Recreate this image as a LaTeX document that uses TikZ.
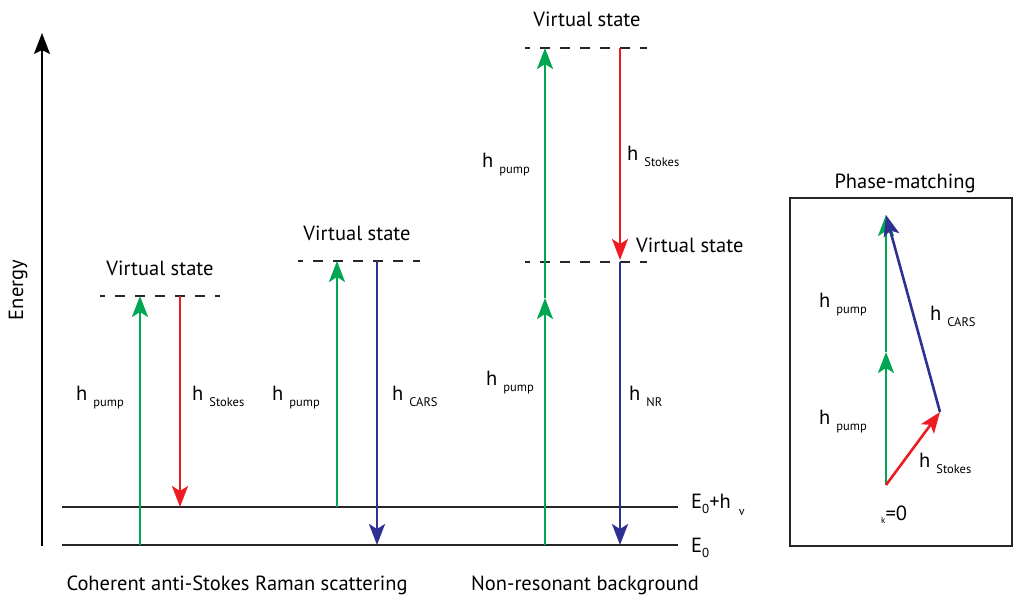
\documentclass[tikz,border=0pt]{standalone}
\usepackage{fontspec}
\setmainfont{PT Sans}
\usetikzlibrary{arrows.meta}
\definecolor{pgreen}{HTML}{00A651}
\definecolor{pred}{HTML}{ED1C24}
\definecolor{pblue}{HTML}{2E3192}
\newcommand{\hsb}[1]{h\hspace{6pt}\raisebox{-6pt}{\fontsize{12.5}{12.5}\selectfont #1}}
\tikzset{
  photon/.style={line width=2.6pt,-{Stealth[length=21pt,width=16pt,inset=5pt]}},
  gph/.style={photon,pgreen},
  rph/.style={photon,pred},
  bph/.style={photon,pblue},
  level/.style={line width=1.6pt,black!85},
  vstate/.style={line width=1.6pt,black!85,dash pattern=on 10pt off 10pt,dash phase=5pt},
  lbl/.style={inner sep=0pt,anchor=base west,font=\fontsize{20.5}{20.5}\selectfont},
  ttl/.style={inner sep=0pt,anchor=base,font=\fontsize{20.5}{20.5}\selectfont},
}
\begin{document}
\begin{tikzpicture}[x=1pt,y=-1pt]
\useasboundingbox (0,0) rectangle (1014,599);
% energy axis
\coordinate (axB) at (42,546);
\coordinate (axT) at (42,33);
\draw[line width=1.8pt,-{Stealth[length=21pt,width=16pt,inset=4pt]}] (axB) -- (axT);
\node[rotate=90,font=\fontsize{20.5}{20.5}\selectfont,inner sep=0pt] (energy) at (18,290) {Energy};
% levels
\coordinate (g0L) at (62,545); \coordinate (g0R) at (678,545);
\coordinate (g1L) at (62,507); \coordinate (g1R) at (678,507);
\draw[level] (g0L) -- (g0R);
\draw[level] (g1L) -- (g1R);
\node[lbl] (e1) at (691,508) {E\raisebox{-5pt}{\fontsize{13}{13}\selectfont 0}+h\hspace{8pt}\raisebox{-7pt}{\fontsize{12}{12}\selectfont v}};
\node[lbl] (e0) at (691,552) {E\raisebox{-5pt}{\fontsize{13}{13}\selectfont 0}};
% diagram 1
\coordinate (v1L) at (100,296); \coordinate (v1R) at (220,296);
\draw[vstate] (v1L) -- (v1R);
\node[ttl] (vs1) at (160,275) {Virtual state};
\coordinate (a1s) at (140,545); \coordinate (a1e) at (140,296);
\draw[gph] (a1s) -- (a1e);
\coordinate (b1s) at (180,296); \coordinate (b1e) at (180,507);
\draw[rph] (b1s) -- (b1e);
\node[lbl] (l1) at (76,400) {\hsb{pump}};
\node[lbl] (l2) at (192,400) {\hsb{Stokes}};
% diagram 2
\coordinate (v2L) at (298,261); \coordinate (v2R) at (420,261);
\draw[vstate] (v2L) -- (v2R);
\node[ttl] (vs2) at (357,240) {Virtual state};
\coordinate (a2s) at (337,507); \coordinate (a2e) at (337,261);
\draw[gph] (a2s) -- (a2e);
\coordinate (b2s) at (377,261); \coordinate (b2e) at (377,545);
\draw[bph] (b2s) -- (b2e);
\node[lbl] (l3) at (272,400) {\hsb{pump}};
\node[lbl] (l4) at (392,400) {\hsb{CARS}};
\node[ttl] (t1) at (237,590) {Coherent anti-Stokes Raman scattering};
% diagram 3
\coordinate (v3L) at (525,48); \coordinate (v3R) at (647,48);
\coordinate (v4L) at (525,262); \coordinate (v4R) at (647,262);
\draw[vstate] (v3L) -- (v3R);
\draw[vstate] (v4L) -- (v4R);
\node[ttl] (vs3) at (587,27) {Virtual state};
\node[lbl] (vs4) at (636,252) {Virtual state};
\coordinate (a3s) at (545,545); \coordinate (a3m) at (545,298); \coordinate (a3e) at (545,48);
\draw[gph] (a3s) -- (a3m);
\draw[gph] (a3m) -- (a3e);
\coordinate (b3s) at (620,48); \coordinate (b3e) at (620,260);
\draw[rph] (b3s) -- (b3e);
\coordinate (c3s) at (620,262); \coordinate (c3e) at (620,545);
\draw[bph] (c3s) -- (c3e);
\node[lbl] (l5) at (482,167) {\hsb{pump}};
\node[lbl] (l6) at (627,160) {\hsb{Stokes}};
\node[lbl] (l7) at (486,385) {\hsb{pump}};
\node[lbl] (l8) at (629,400) {\hsb{NR}};
\node[ttl] (t2) at (585,590) {Non-resonant background};
% phase matching
\node[ttl] (pmt) at (905,188) {Phase-matching};
\coordinate (pbL) at (790,198); \coordinate (pbR) at (1012,546);
\draw[line width=1.6pt,black!85] (pbL) rectangle (pbR);
\coordinate (p0) at (886,485); \coordinate (p1) at (886,352); \coordinate (p2) at (886,215);
\coordinate (ps) at (940,412);
\draw[gph] (p0) -- (p1);
\draw[gph] (p1) -- (p2);
\draw[rph] (p0) -- (ps);
\draw[bph] (ps) -- (p2);
\node[lbl] (l9) at (819,307) {\hsb{pump}};
\node[lbl] (l10) at (819,424) {\hsb{pump}};
\node[lbl] (l11) at (930,320) {\hsb{CARS}};
\node[lbl] (l12) at (919,467) {\hsb{Stokes}};
\node[lbl] (l13) at (881,520) {\raisebox{-3pt}{\fontsize{9}{9}\selectfont k}=0};
\end{tikzpicture}
\end{document}
